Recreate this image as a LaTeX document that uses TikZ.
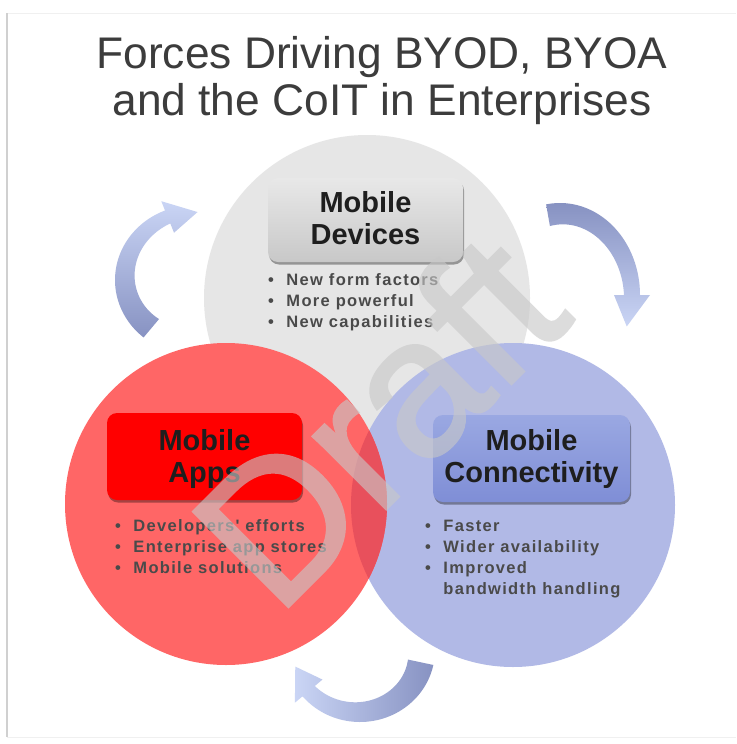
\documentclass[tikz,border=0pt]{standalone}
\usepackage{fontspec}
\setmainfont{Liberation Sans}
\newfontfamily\bulfont[LetterSpace=8]{Liberation Sans}
\newfontfamily\wmfont[FakeBold=1.5]{Liberation Sans}
\usetikzlibrary{shadows}

\definecolor{titlegray}{HTML}{3C3C3C}
\definecolor{circgray}{HTML}{E6E6E6}
\definecolor{circred}{HTML}{FF6666}
\definecolor{circblue}{HTML}{B1B9E6}
\definecolor{lensred}{HTML}{E8505C}
\definecolor{boxgrayT}{HTML}{E8E8E8}
\definecolor{boxgrayB}{HTML}{C8C8C8}
\definecolor{boxblueT}{HTML}{9AA8E2}
\definecolor{boxblueB}{HTML}{7F8ED6}
\definecolor{boxred}{HTML}{FF0000}
\definecolor{arrdark}{HTML}{8792C2}
\definecolor{arrlight}{HTML}{CAD5F5}
\definecolor{bultext}{HTML}{4A4A4A}
\definecolor{labtext}{HTML}{1E1E1E}
\definecolor{wmark}{HTML}{C8C8C8}
\definecolor{framegray}{HTML}{D0D0D0}
\definecolor{framefaint}{HTML}{F0F0F0}

% curved arrow drawn from parameters \qacx ... \qah
\newcommand\carrow[1]{%
  \shade[#1]
    plot[domain=\qats:\qate, samples=50] ({\qacx+\qarx*cos(\x)},{\qacy+\qary*sin(\x)})
    -- ({\qacx+(\qarx+\qah)*cos(\qate)},{\qacy+(\qary+\qah)*sin(\qate)})
    -- ({\qacx+(\qarx-\qawh/2)*cos(\qatt)},{\qacy+(\qary-\qawh/2)*sin(\qatt)})
    -- ({\qacx+(\qarx-\qawh-\qah)*cos(\qate)},{\qacy+(\qary-\qawh-\qah)*sin(\qate)})
    -- plot[domain=\qate:\qats, samples=50]
       ({\qacx+(\qarx-(\qawt+(\qawh-\qawt)*(\x-\qats)/(\qate-\qats)))*cos(\x)},
        {\qacy+(\qary-(\qawt+(\qawh-\qawt)*(\x-\qats)/(\qate-\qats)))*sin(\x)})
    -- cycle;}

\begin{document}
\begin{tikzpicture}[x=1pt,y=-1pt,
  titletext/.style={anchor=base, inner sep=0pt, text=titlegray,
     font=\fontsize{44.3}{48}\selectfont},
  boxshape/.style={rounded corners=10pt, inner sep=0pt,
     drop shadow={shadow xshift=1pt, shadow yshift=-2.5pt, opacity=0.35, fill=black}},
  labeltext/.style={anchor=base, inner sep=0pt, text=labtext,
     font=\fontsize{29}{32}\selectfont\bfseries},
  bullettext/.style={anchor=base west, inner sep=0pt, text=bultext,
     font=\bulfont\bfseries\fontsize{16.5}{21.2}\selectfont},
  watermark/.style={rotate=45, anchor=base west, inner sep=0pt, text=wmark,
     font=\wmfont\fontsize{195}{195}\selectfont}
]
\useasboundingbox (0,0) rectangle (736,744);
\fill[white] (0,0) rectangle (736,744);

% frame
\draw[framefaint, line width=1pt] (7,13) -- (736,13);
\draw[framefaint, line width=1pt] (7,737) -- (736,737);
\draw[framegray, line width=1.5pt] (7,13) -- (7,737);

% title
\node[titletext] (title1) at (382,68) {Forces Driving BYOD, BYOA};
\node[titletext] (title2) at (382,115.5) {and the CoIT in Enterprises};

% circles
\fill[circgray] (367,298) circle[radius=163];
\fill[circblue] (513,505) circle[radius=162];
\fill[circred] (226,504) circle[radius=161];
\begin{scope}
  \clip (513,505) circle[radius=162];
  \fill[lensred] (226,504) circle[radius=161];
\end{scope}

% curved arrows
\def\qah{10}
% left arrow (apps -> devices)
\def\qacx{195}\def\qacy{280}\def\qarx{80}\def\qary{75}
\def\qawt{24}\def\qawh{14}\def\qats{130}\def\qate{248}\def\qatt{272}
\carrow{top color=arrlight, bottom color=arrdark}
% top right arrow (devices -> connectivity)
\def\qacx{560}\def\qacy{295}\def\qarx{80}\def\qary{92}
\def\qawt{22}\def\qawh{16}\def\qats{260}\def\qate{360}\def\qatt{382}
\carrow{top color=arrdark, bottom color=arrlight}
% bottom arrow (connectivity -> apps)
\def\qacx{360}\def\qacy{650}\def\qarx{75}\def\qary{72}
\def\qawt{26}\def\qawh{16}\def\qats{12}\def\qate{140}\def\qatt{165}
\carrow{left color=arrlight, right color=arrdark}

% boxes
\node[boxshape, top color=boxgrayT, bottom color=boxgrayB,
      minimum width=195pt, minimum height=84pt] (devbox) at (365.5,220) {};
\node[boxshape, fill=boxred,
      minimum width=195pt, minimum height=87pt] (appbox) at (204.5,456.5) {};
\node[boxshape, top color=boxblueT, bottom color=boxblueB,
      minimum width=197pt, minimum height=87pt] (conbox) at (531.5,458.5) {};

\node[labeltext] (devlab) at (365.5,212)
  {\begin{tabular}[t]{@{}c@{}}Mobile\\Devices\end{tabular}};
\node[labeltext] (applab) at (204.5,450.5)
  {\begin{tabular}[t]{@{}c@{}}Mobile\\Apps\end{tabular}};
\node[labeltext] (conlab) at (531.5,450.5)
  {\begin{tabular}[t]{@{}c@{}}Mobile\\Connectivity\end{tabular}};

% bullet lists
\node[bullettext] (devlist) at (268,285.5)
  {\begin{tabular}[t]{@{}l@{\hspace{12.5pt}}l@{}}
   \textbullet & New form factors\\
   \textbullet & More powerful\\
   \textbullet & New capabilities
   \end{tabular}};
\node[bullettext] (applist) at (115,531)
  {\begin{tabular}[t]{@{}l@{\hspace{12.5pt}}l@{}}
   \textbullet & Developers' efforts\\
   \textbullet & Enterprise app stores\\
   \textbullet & Mobile solutions
   \end{tabular}};
\node[bullettext] (conlist) at (425,531)
  {\begin{tabular}[t]{@{}l@{\hspace{12.5pt}}l@{}}
   \textbullet & Faster\\
   \textbullet & Wider availability\\
   \textbullet & Improved\\
               & bandwidth handling
   \end{tabular}};

% watermark
\begin{scope}[transparency group, opacity=0.62]
  \node[watermark] (draft) at (277,618) {Draft};
\end{scope}
\end{tikzpicture}
\end{document}
